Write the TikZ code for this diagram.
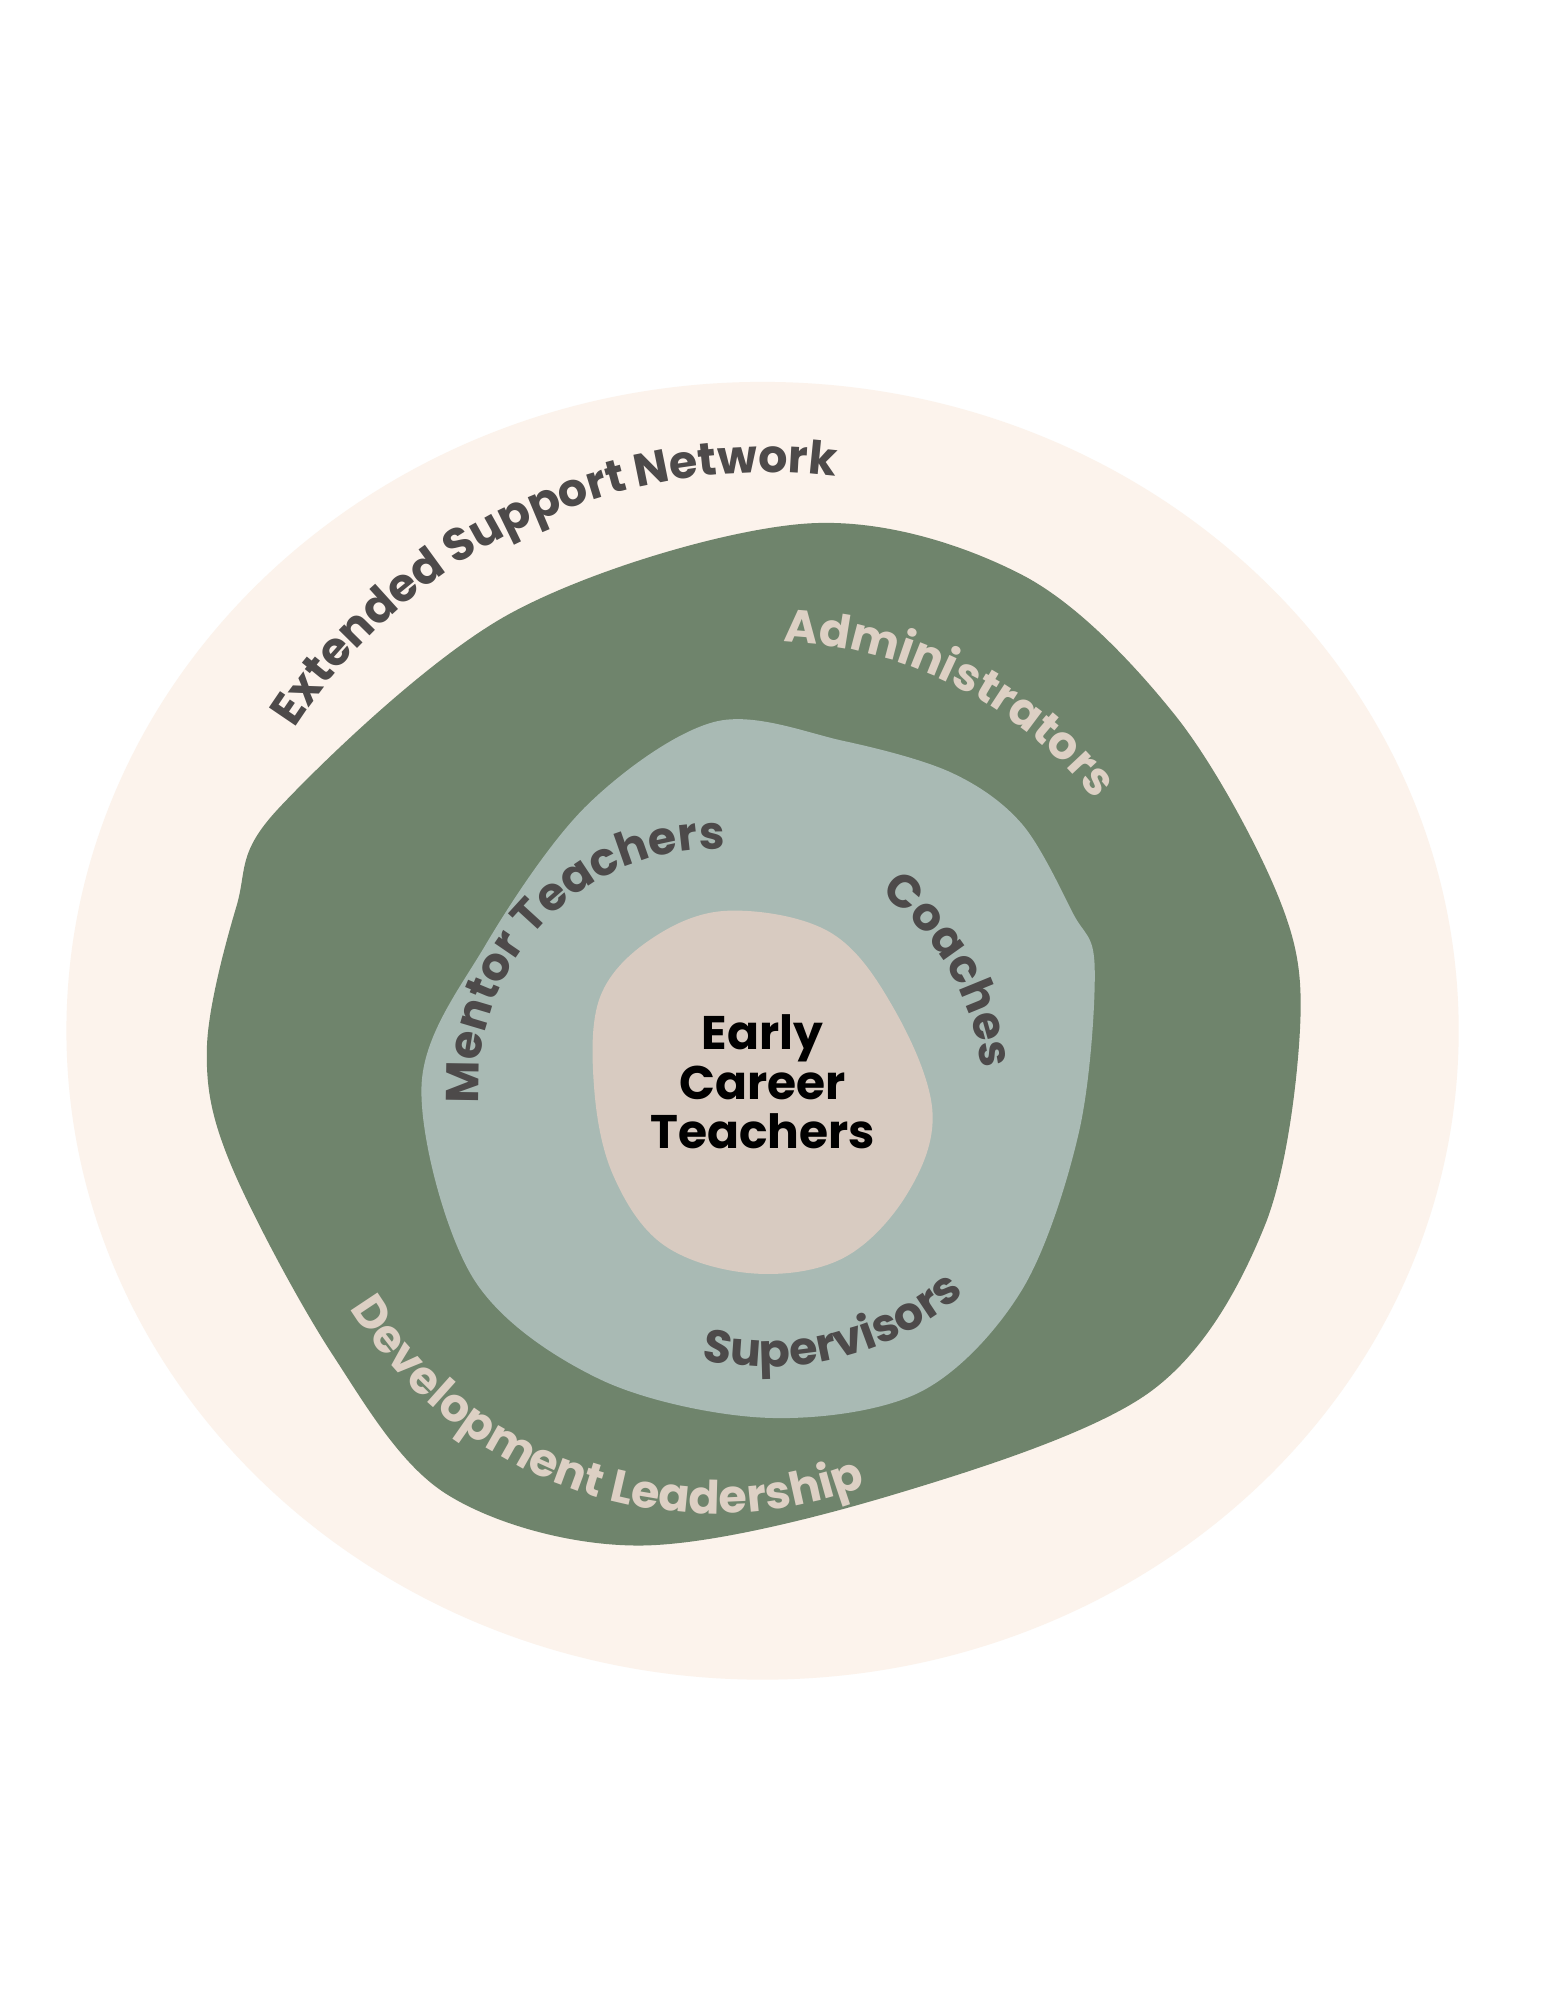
\documentclass[tikz,border=0pt]{standalone}
\usepackage{fontspec}
\setmainfont{Poppins}
\usetikzlibrary{decorations.text}
\definecolor{outerc}{HTML}{FCF3EC}
\definecolor{darkg}{HTML}{6F846C}
\definecolor{lightg}{HTML}{A9BAB4}
\definecolor{core}{HTML}{D8CBC1}
\definecolor{tdark}{HTML}{4D4A4A}
\definecolor{tlight}{HTML}{DDD0C4}
\tikzset{
  arctext/.style={decorate, decoration={text along path, text align=center, text={#1}}},
}
\newcommand{\dk}{|\fontsize{20.5}{20}\selectfont\bfseries\color{tdark}|}
\newcommand{\lt}{|\fontsize{20.5}{20}\selectfont\bfseries\color{tlight}|}
\begin{document}
\begin{tikzpicture}[x=0.02cm,y=0.02cm]
\useasboundingbox (0,0) rectangle (1210,1565);
\fill[white] (0,0) rectangle (1210,1565);
\fill[outerc] (597,758) ellipse[x radius=545, y radius=508];
\fill[darkg] plot[smooth cycle, tension=0.55] coordinates {(218,932) (400,1085) (630,1155) (800,1115) (920,1005) (1000,865) (1018,765) (990,605) (900,475) (700,395) (500,355) (350,395) (260,505) (180,655) (162,745) (185,855)};
\fill[lightg] plot[smooth cycle, tension=0.55] coordinates {(330,715) (380,825) (460,935) (560,1000) (660,985) (745,960) (800,920) (840,850) (857,808) (845,680) (800,555) (720,475) (600,455) (470,485) (370,565)};
\fill[core] plot[smooth cycle, tension=0.6] coordinates {(570,852) (650,835) (700,775) (730,695) (710,630) (660,580) (590,568) (520,590) (480,645) (465,715) (470,785) (510,830)};
\coordinate (cE) at (600,755);
\coordinate (cA) at (600,735);
\coordinate (cM) at (560,715);
\coordinate (cC) at (570,705);
\coordinate (cS) at (600,735);
\coordinate (cD) at (560,715);
\path[arctext={\dk Extended Support Network}] (cE) ++(152:440) arc[start angle=152, end angle=78, radius=440];
\path[arctext={\lt Administrators}] (cA) ++(92:328) arc[start angle=92, end angle=34, radius=328];
\path[arctext={\dk Mentor Teachers}] (cM) ++(192:185) arc[start angle=192, end angle=80, radius=185];
\path[arctext={\dk Coaches}] (cC) ++(58:200) arc[start angle=58, end angle=2, radius=200];
\path[arctext={\dk Supervisors}] (cS) ++(250:240) arc[start angle=250, end angle=318, radius=240];
\path[arctext={\lt Development Leadership}] (cD) ++(200:335) arc[start angle=200, end angle=302, radius=335];
\node[align=center, font=\fontsize{21}{22}\selectfont\bfseries, text=black] (ect) at (597,718) {Early\\Career\\Teachers};
\end{tikzpicture}
\end{document}
